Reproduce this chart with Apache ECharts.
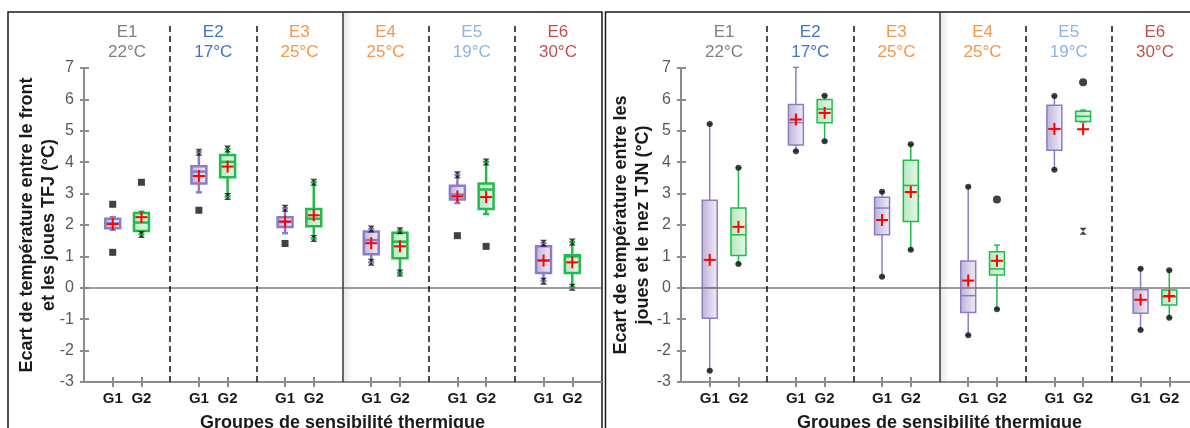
<!DOCTYPE html>
<html lang="fr">
<head>
<meta charset="UTF-8">
<title>Ecarts de température TFJ / TJN</title>
<script src="https://cdn.jsdelivr.net/npm/echarts@6/dist/echarts.min.js"></script>
<style>
  html, body { margin: 0; padding: 0; background: #fff; }
  #chart { width: 1190px; height: 428px; }
</style>
</head>
<body>
<div id="chart"></div>
<script>
// groupes (ambiances) et sous-groupes
var groupNames = ['E1', 'E2', 'E3', 'E4', 'E5', 'E6'];
var groupTemps = ['22°C', '17°C', '25°C', '25°C', '19°C', '30°C'];
var groupColors = ['#7f7f7f', '#4472c4', '#f79646', '#f79646', '#8db4e2', '#c0504d'];
var subNames = ['G1', 'G2'];
var yMin = -3, yMax = 7;

// TFJ : [min, q1, mediane, q3, max] par ambiance
var tfjG1 = [[1.85, 1.90, 2.05, 2.20, 2.25], [3.04, 3.32, 3.70, 3.87, 4.32], [1.74, 1.94, 2.10, 2.25, 2.53],
             [0.81, 1.07, 1.52, 1.79, 1.87], [2.70, 2.81, 2.97, 3.25, 3.60], [0.21, 0.47, 0.87, 1.32, 1.42]];
var tfjG1Mean = [2.03, 3.56, 2.11, 1.42, 2.91, 0.87];
var tfjG1Ends = [[0, 0], [0, 1], [0, 1], [1, 1], [0, 1], [1, 1]]; // marqueur au bout des moustaches
var tfjG1Out = [[0, 2.66], [0, 1.13], [1, 2.47], [2, 1.41], [4, 1.66]];

var tfjG2 = [[1.70, 1.81, 2.08, 2.38, 2.42], [2.91, 3.52, 4.01, 4.23, 4.42], [1.57, 1.96, 2.20, 2.51, 3.36],
             [0.47, 0.94, 1.47, 1.75, 1.82], [2.35, 2.51, 3.13, 3.32, 4.01], [0.02, 0.47, 1.00, 1.04, 1.46]];
var tfjG2Mean = [2.25, 3.86, 2.31, 1.32, 2.89, 0.81];
var tfjG2Ends = [[1, 0], [1, 1], [1, 1], [1, 1], [0, 1], [1, 1]];
var tfjG2Out = [[0, 3.36], [4, 1.32]];

// TJN
var tjnG1 = [[-2.64, -0.97, 0.00, 2.79, 5.22], [4.35, 4.55, 5.26, 5.84, 7.02], [0.35, 1.69, 2.54, 2.88, 3.06],
             [-1.51, -0.79, -0.25, 0.85, 3.22], [3.76, 4.38, 5.06, 5.81, 6.11], [-1.34, -0.81, -0.38, -0.06, 0.61]];
var tjnG1Mean = [0.89, 5.36, 2.16, 0.23, 5.06, -0.38];
var tjnG1Ends = [[1, 1], [1, 1], [1, 1], [1, 1], [1, 1], [1, 1]];
var tjnG1Out = [];

var tjnG2 = [[0.76, 1.03, 1.69, 2.54, 3.82], [4.67, 5.26, 5.69, 6.00, 6.12], [1.21, 2.11, 3.26, 4.06, 4.57],
             [-0.68, 0.41, 0.60, 1.15, 1.36], [5.28, 5.30, 5.46, 5.62, 5.66], [-0.95, -0.55, -0.29, -0.07, 0.56]];
var tjnG2Mean = [1.94, 5.57, 3.05, 0.86, 5.05, -0.26];
var tjnG2Ends = [[1, 1], [1, 1], [1, 1], [1, 0], [0, 0], [1, 1]];
var tjnG2Out = [[3, 2.81, 'dot'], [4, 6.55, 'dot'], [4, 1.80, 'cross']];

// mise en page
var FONT = '"Liberation Sans", Arial, sans-serif';
var plotTop = 68, plotBottom = 382, frameTop = 12, dashTop = 24;
var plotW = 517;
var panelLeft = [84, 681];
var unitPx = (plotBottom - plotTop) / (yMax - yMin);
var overlayMax = yMin + (plotBottom - frameTop) / unitPx;
var dashMax = yMin + (plotBottom - dashTop) / unitPx;
var HOURGLASS = 'path://M0,0L10,0L5,5L10,10L0,10L5,5Z';

var xCats = [];
groupNames.forEach(function () { xCats.push('', subNames[0], subNames[1]); });
xCats.push('');

var panels = [
  { yName: 'Ecart de température entre le front\net les joues TFJ (°C)', nameGap: 24, lw: 2.5,
    boxes: [[tfjG1, tfjG1Mean, tfjG1Ends, tfjG1Out], [tfjG2, tfjG2Mean, tfjG2Ends, tfjG2Out]],
    endSymbol: HOURGLASS, endSize: 7, outSymbol: 'rect', outSize: 7 },
  { yName: 'Ecart de température entre les\njoues et le nez TJN (°C)', nameGap: 27, lw: 1.5,
    boxes: [[tjnG1, tjnG1Mean, tjnG1Ends, tjnG1Out], [tjnG2, tjnG2Mean, tjnG2Ends, tjnG2Out]],
    endSymbol: 'circle', endSize: 6, outSymbol: 'circle', outSize: 8 }
];

var boxStroke = ['#8e7cc3', '#1fbb4c'];
var boxFill = [
  { type: 'linear', x: 0, y: 0, x2: 1, y2: 0, colorStops: [{ offset: 0, color: '#bcb0da' }, { offset: 1, color: '#f3f0f9' }] },
  { type: 'linear', x: 0, y: 0, x2: 1, y2: 0, colorStops: [{ offset: 0, color: '#b4e8bd' }, { offset: 1, color: '#e6f8e9' }] }
];

function makeBox(stroke, fill, lw) {
  return function (params, api) {
    var x = api.value(0);
    var pLow = api.coord([x, api.value(1)]);
    var pQ1 = api.coord([x, api.value(2)]);
    var pMed = api.coord([x, api.value(3)]);
    var pQ3 = api.coord([x, api.value(4)]);
    var pHigh = api.coord([x, api.value(5)]);
    var pMean = api.coord([x, api.value(6)]);
    var cx = pLow[0];
    var half = api.size([1, 0])[0] * 0.26;
    var ls = { stroke: stroke, lineWidth: lw };
    var red = { stroke: '#ff0000', lineWidth: 2 };
    return {
      type: 'group',
      children: [
        { type: 'line', shape: { x1: cx, y1: pLow[1], x2: cx, y2: pQ1[1] }, style: ls },
        { type: 'line', shape: { x1: cx, y1: pQ3[1], x2: cx, y2: pHigh[1] }, style: ls },
        { type: 'line', shape: { x1: cx - 3, y1: pLow[1], x2: cx + 3, y2: pLow[1] }, style: ls },
        { type: 'line', shape: { x1: cx - 3, y1: pHigh[1], x2: cx + 3, y2: pHigh[1] }, style: ls },
        { type: 'rect', shape: { x: cx - half, y: pQ3[1], width: half * 2, height: pQ1[1] - pQ3[1] },
          style: { fill: fill, stroke: stroke, lineWidth: lw } },
        { type: 'line', shape: { x1: cx - half, y1: pMed[1], x2: cx + half, y2: pMed[1] }, style: ls },
        { type: 'line', shape: { x1: cx - 6, y1: pMean[1], x2: cx + 6, y2: pMean[1] }, style: red },
        { type: 'line', shape: { x1: cx, y1: pMean[1] - 6, x2: cx, y2: pMean[1] + 6 }, style: red }
      ]
    };
  };
}

var grids = [], xAxes = [], yAxes = [], series = [];

panels.forEach(function (p, pi) {
  var g0 = pi * 3;     // grille principale, grille des graduations, grille des séparateurs
  var x0 = pi * 4;
  var gridBase = { left: panelLeft[pi], width: plotW, containLabel: false, outerBoundsMode: 'none' };
  grids.push(Object.assign({ top: plotTop, height: plotBottom - plotTop }, gridBase));
  grids.push(Object.assign({ top: plotTop, height: plotBottom - plotTop }, gridBase));
  grids.push(Object.assign({ top: frameTop, height: plotBottom - frameTop }, gridBase));

  // axe x principal (G1 / G2)
  xAxes.push({
    gridIndex: g0, type: 'category', data: xCats, boundaryGap: false, position: 'bottom',
    name: 'Groupes de sensibilité thermique', nameLocation: 'middle', nameGap: 32, nameMoveOverlap: false,
    nameTextStyle: { fontFamily: FONT, fontSize: 18, fontWeight: 'bold', color: '#1a1a1a' },
    axisLine: { onZero: false, lineStyle: { color: '#8c8c8c', width: 2 } },
    axisTick: { interval: function (i) { return i % 3 !== 0; }, length: 5, lineStyle: { color: '#8c8c8c', width: 2 } },
    axisLabel: { interval: 0, margin: 9, fontFamily: FONT, fontSize: 15, fontWeight: 'bold', color: '#1a1a1a' },
    splitLine: { show: false }
  });
  // en-têtes des ambiances
  xAxes.push({
    gridIndex: g0, type: 'category', data: groupNames, boundaryGap: true, position: 'top',
    axisLine: { show: false, onZero: false }, axisTick: { show: false }, splitLine: { show: false },
    axisLabel: {
      interval: 0, margin: 6,
      formatter: function (v, i) { return '{c' + i + '|' + v + '}\n{c' + i + '|' + groupTemps[i] + '}'; },
      rich: groupColors.reduce(function (acc, c, i) {
        acc['c' + i] = { color: c, fontFamily: FONT, fontSize: 17, lineHeight: 20 };
        return acc;
      }, {})
    }
  });
  // graduations intérieures
  xAxes.push({
    gridIndex: g0 + 1, type: 'category', data: xCats, boundaryGap: false, position: 'bottom',
    axisLine: { show: false, onZero: false }, axisLabel: { show: false }, splitLine: { show: false },
    axisTick: { inside: true, interval: function (i) { return i % 3 !== 0; }, length: 5, lineStyle: { color: '#8c8c8c', width: 2 } }
  });
  xAxes.push({ gridIndex: g0 + 2, type: 'value', min: 0, max: xCats.length - 1, show: false });

  yAxes.push({
    gridIndex: g0, type: 'value', min: yMin, max: yMax, interval: 1,
    name: p.yName, nameLocation: 'middle', nameGap: p.nameGap, nameRotate: 90, nameMoveOverlap: false,
    nameTextStyle: { fontFamily: FONT, fontSize: 18, fontWeight: 'bold', color: '#1a1a1a', lineHeight: 22 },
    axisLine: { show: true, onZero: false, lineStyle: { color: '#8c8c8c', width: 2 } },
    axisTick: { show: true, length: 4, lineStyle: { color: '#8c8c8c', width: 2 } },
    axisLabel: { margin: 10, fontFamily: FONT, fontSize: 16, color: '#595959' },
    splitLine: { show: false }
  });
  yAxes.push({
    gridIndex: g0 + 1, type: 'value', min: yMin, max: yMax, interval: 1,
    axisLine: { show: false, onZero: false }, axisLabel: { show: false }, splitLine: { show: false },
    axisTick: { show: true, inside: true, length: 5, lineStyle: { color: '#8c8c8c', width: 2 } }
  });
  yAxes.push({ gridIndex: g0 + 2, type: 'value', min: yMin, max: overlayMax, show: false });

  // boîtes
  p.boxes.forEach(function (b, si) {
    var stats = b[0], means = b[1], ends = b[2], outs = b[3];
    var data = stats.map(function (r, k) { return [3 * k + 1 + si].concat(r, [means[k]]); });
    var s = {
      type: 'custom', xAxisIndex: x0, yAxisIndex: g0, z: 2,
      renderItem: makeBox(boxStroke[si], boxFill[si], p.lw), data: data, silent: true
    };
    if (si === 0) {
      s.markLine = {
        silent: true, symbol: ['none', 'none'], label: { show: false },
        lineStyle: { color: '#7a7a7a', width: 1.5, type: 'solid' }, data: [{ yAxis: 0 }]
      };
    }
    series.push(s);

    var endPts = [];
    ends.forEach(function (f, k) {
      if (f[0]) endPts.push([3 * k + 1 + si, stats[k][0]]);
      if (f[1]) endPts.push([3 * k + 1 + si, stats[k][4]]);
    });
    series.push({
      type: 'scatter', xAxisIndex: x0, yAxisIndex: g0, z: 4, silent: true,
      symbol: p.endSymbol, symbolSize: p.endSize, itemStyle: { color: '#111' }, data: endPts
    });
    series.push({
      type: 'scatter', xAxisIndex: x0, yAxisIndex: g0, z: 4, silent: true,
      symbolSize: p.outSize, itemStyle: { color: '#111' },
      data: outs.map(function (o) {
        var item = { value: [3 * o[0] + 1 + si, o[1]] };
        item.symbol = o[2] === 'cross' ? HOURGLASS : (o[2] === 'dot' ? 'circle' : p.outSymbol);
        if (o[2] === 'cross') item.symbolSize = 7;
        return item;
      })
    });
  });

  // séparateurs des ambiances
  var sepLines = [];
  for (var k = 1; k < groupNames.length; k++) {
    if (k === 3) {
      sepLines.push([{ coord: [3 * k, yMin], lineStyle: { type: 'solid', color: '#3a3a3a', width: 1.5 } },
                     { coord: [3 * k, overlayMax] }]);
    } else {
      sepLines.push([{ coord: [3 * k, yMin] }, { coord: [3 * k, dashMax] }]);
    }
  }
  series.push({
    type: 'line', xAxisIndex: x0 + 3, yAxisIndex: g0 + 2, data: [[0, yMin]], symbol: 'none',
    lineStyle: { opacity: 0 }, silent: true, z: 1,
    markLine: {
      silent: true, symbol: ['none', 'none'], label: { show: false },
      lineStyle: { color: '#111', width: 1.5, type: [6, 4] }, data: sepLines
    },
    markArea: {
      silent: true,
      itemStyle: { color: { type: 'linear', x: 0, y: 0, x2: 1, y2: 0,
        colorStops: [{ offset: 0, color: 'rgba(0,0,0,0.10)' }, { offset: 1, color: 'rgba(0,0,0,0)' }] } },
      data: [[{ coord: [9, yMin] }, { coord: [9.35, overlayMax] }]]
    }
  });
});

var chart = echarts.init(document.getElementById('chart'));
chart.setOption({
  animation: false,
  backgroundColor: '#fff',
  textStyle: { fontFamily: FONT },
  grid: grids,
  xAxis: xAxes,
  yAxis: yAxes,
  series: series,
  graphic: [
    { type: 'rect', shape: { x: 8, y: 12, width: 594, height: 440 }, style: { fill: 'none', stroke: '#1a1a1a', lineWidth: 1.5 }, silent: true },
    { type: 'rect', shape: { x: 605.5, y: 12, width: 600, height: 440 }, style: { fill: 'none', stroke: '#1a1a1a', lineWidth: 1.5 }, silent: true }
  ]
});
</script>
</body>
</html>
